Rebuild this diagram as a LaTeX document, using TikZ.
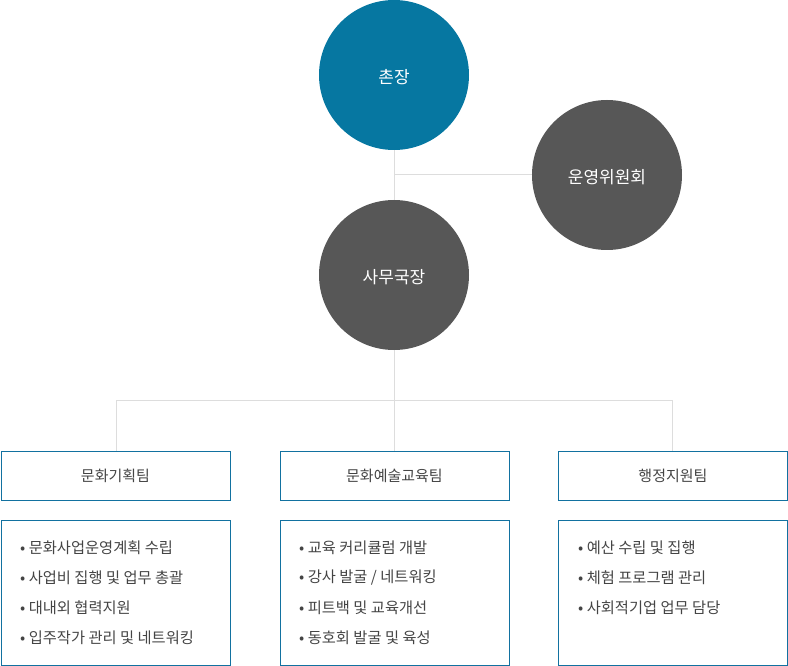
\documentclass[tikz,border=0pt]{standalone}
\usepackage{fontspec}
\setmainfont{Noto Sans CJK KR}
\definecolor{chief}{HTML}{0677A1}
\definecolor{darkc}{HTML}{575757}
\definecolor{boxc}{HTML}{1271A0}
\definecolor{linec}{HTML}{DDDDDD}
\definecolor{txt}{HTML}{444444}
\tikzset{
  circ/.style={circle, minimum size=150pt, inner sep=0pt, text=white, font=\fontsize{17}{20}\selectfont},
  head/.style={draw=boxc, line width=0.9pt, minimum width=229pt, minimum height=49pt, inner sep=0pt, text=txt, font=\fontsize{15}{18}\selectfont, anchor=north west},
  body/.style={draw=boxc, line width=0.9pt, minimum width=229pt, minimum height=145pt, inner sep=0pt, anchor=north west},
  item/.style={anchor=west, inner sep=0pt, text=txt, font=\fontsize{15.3}{18}\selectfont},
  conn/.style={draw=linec, line width=1pt}
}
\begin{document}
\begin{tikzpicture}[x=1pt,y=-1pt]
\useasboundingbox (0,0) rectangle (788,666);
% circles
\node[circ, fill=chief] (chief) at (394,75) {};
\node[circ, fill=darkc] (comm) at (607,175) {};
\node[circ, fill=darkc] (sec) at (394,275) {};
\node[text=white, font=\fontsize{17}{20}\selectfont, inner sep=0pt] (chiefT) at (394,77) {촌장};
\node[text=white, font=\fontsize{17}{20}\selectfont, inner sep=0pt] (commT) at (607,177.5) {운영위원회};
\node[text=white, font=\fontsize{17}{20}\selectfont, inner sep=0pt] (secT) at (394,277.5) {사무국장};
% team boxes
\node[head] (h1) at (0.5,450.5) {문화기획팀};
\node[head] (h2) at (279.5,450.5) {문화예술교육팀};
\node[head] (h3) at (558,450.5) {행정지원팀};
\node[body] (b1) at (0.5,519.5) {};
\node[body] (b2) at (279.5,519.5) {};
\node[body] (b3) at (558,519.5) {};
% connectors
\coordinate (j1) at (394,175);
\coordinate (bl) at (116,400);
\coordinate (bm) at (394,400);
\coordinate (br) at (672,400);
\draw[conn] (chief.south) -- (sec.north);
\draw[conn] (j1) -- (comm.west);
\draw[conn] (sec.south) -- (bm);
\draw[conn] (bl) -- (br);
\draw[conn] (bl) -- (bl |- h1.north);
\draw[conn] (bm) -- (bm |- h2.north);
\draw[conn] (br) -- (br |- h3.north);
% items
\foreach \t [count=\i] in {문화사업운영계획 수립, 사업비 집행 및 업무 총괄, 대내외 협력지원, 입주작가 관리 및 네트워킹}
  \node[item] (l\i) at (20,518+30*\i) {• \t};
\foreach \t [count=\i] in {교육 커리큘럼 개발, 강사 발굴 / 네트워킹, 피트백 및 교육개선, 동호회 발굴 및 육성}
  \node[item] (m\i) at (299,518+30*\i) {• \t};
\foreach \t [count=\i] in {예산 수립 및 집행, 체험 프로그램 관리, 사회적기업 업무 담당}
  \node[item] (r\i) at (578,518+30*\i) {• \t};
\end{tikzpicture}
\end{document}
